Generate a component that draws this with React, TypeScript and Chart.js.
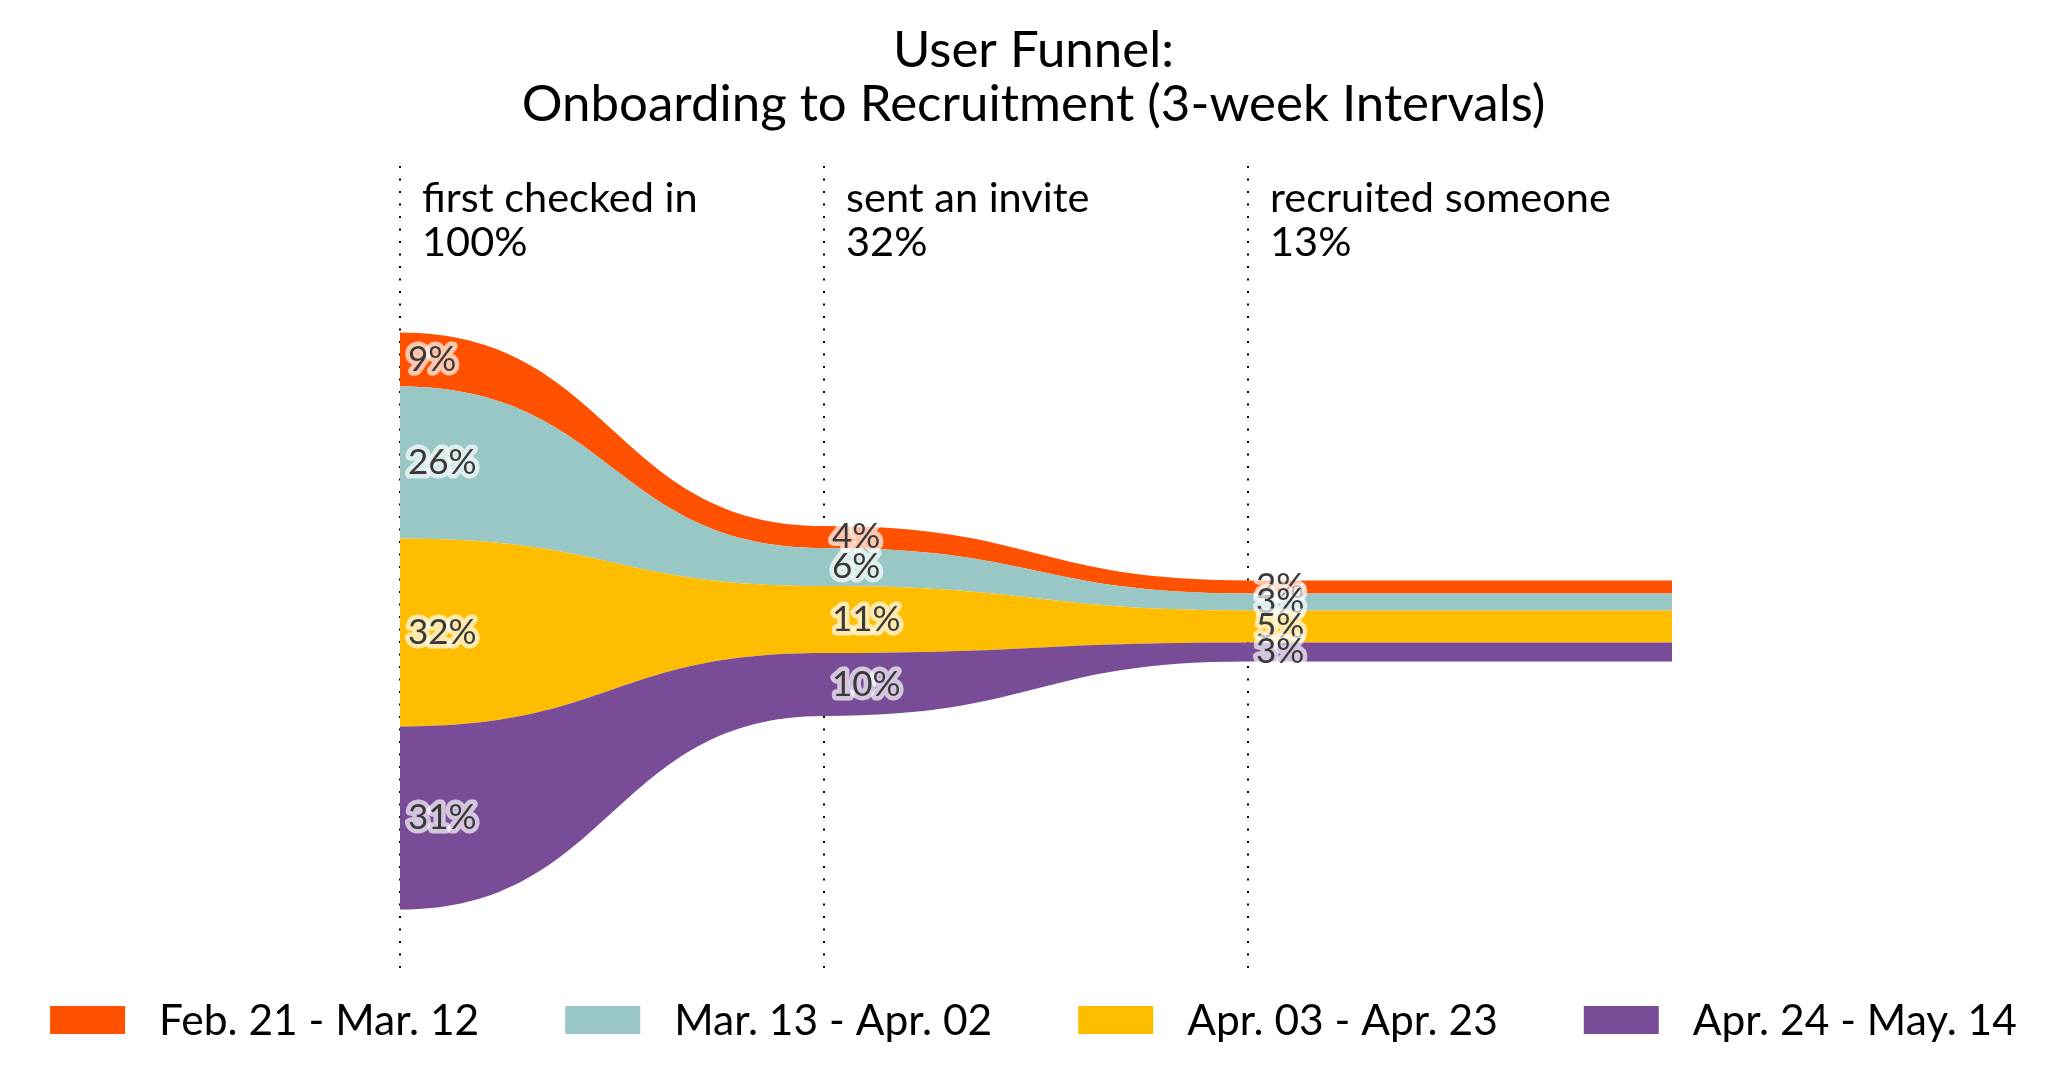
import React, { useEffect, useRef } from 'react';
import { Chart, registerables } from 'chart.js';

Chart.register(...registerables);

// ---- data ----
const stageNames = ['first checked in', 'sent an invite', 'recruited someone'];
const stageTotals = ['100%', '32%', '13%'];
const stageX = [0, 1, 2];
const endX = 3;
const cohorts = ['Feb. 21 - Mar. 12', 'Mar. 13 - Apr. 02', 'Apr. 03 - Apr. 23', 'Apr. 24 - May. 14'];
const colors = ['#ff5100', '#98c7c6', '#ffbd00', '#784c96'];
const febValues = [9.36, 3.81, 2.25];
const marValues = [26.34, 6.59, 2.95];
const aprValues = [32.58, 11.6, 5.55];
const mayValues = [31.72, 10.9, 3.29];
const febLabels = ['9%', '4%', '2%'];
const marLabels = ['26%', '6%', '3%'];
const aprLabels = ['32%', '11%', '5%'];
const mayLabels = ['31%', '10%', '3%'];

const seriesValues = [febValues, marValues, aprValues, mayValues];
const seriesLabels = [febLabels, marLabels, aprLabels, mayLabels];

const FONT = 'Lato, "Open Sans", sans-serif';

function computeBounds(chart: any) {
  const vals = chart.data.datasets.map((ds: any) => ds.data.map((p: any) => p.y));
  const nStages = vals[0].length;
  const tops: number[][] = vals.map(() => []);
  const bottoms: number[][] = vals.map(() => []);
  for (let s = 0; s < nStages; s++) {
    let total = 0;
    vals.forEach((v: number[]) => (total += v[s]));
    let cur = total / 2;
    vals.forEach((v: number[], k: number) => {
      tops[k][s] = cur;
      cur -= v[s];
      bottoms[k][s] = cur;
    });
  }
  return { tops, bottoms, nStages };
}

const bandsPlugin = {
  id: 'funnelBands',
  beforeDatasetsDraw(chart: any) {
    const { ctx } = chart;
    const xs = chart.scales.x;
    const ys = chart.scales.y;
    const { tops, bottoms, nStages } = computeBounds(chart);
    chart.data.datasets.forEach((ds: any, k: number) => {
      const px = (s: number) => xs.getPixelForValue(ds.data[s].x);
      const pxEnd = xs.getPixelForValue(endX);
      ctx.save();
      ctx.beginPath();
      ctx.moveTo(px(0), ys.getPixelForValue(tops[k][0]));
      for (let s = 0; s < nStages - 1; s++) {
        const x0 = px(s), x1 = px(s + 1), xm = (x0 + x1) / 2;
        const y0 = ys.getPixelForValue(tops[k][s]);
        const y1 = ys.getPixelForValue(tops[k][s + 1]);
        ctx.bezierCurveTo(xm, y0, xm, y1, x1, y1);
      }
      ctx.lineTo(pxEnd, ys.getPixelForValue(tops[k][nStages - 1]));
      ctx.lineTo(pxEnd, ys.getPixelForValue(bottoms[k][nStages - 1]));
      ctx.lineTo(px(nStages - 1), ys.getPixelForValue(bottoms[k][nStages - 1]));
      for (let s = nStages - 1; s > 0; s--) {
        const x0 = px(s), x1 = px(s - 1), xm = (x0 + x1) / 2;
        const y0 = ys.getPixelForValue(bottoms[k][s]);
        const y1 = ys.getPixelForValue(bottoms[k][s - 1]);
        ctx.bezierCurveTo(xm, y0, xm, y1, x1, y1);
      }
      ctx.closePath();
      ctx.fillStyle = ds.backgroundColor;
      ctx.fill();
      ctx.restore();
    });
  },
  afterDatasetsDraw(chart: any) {
    const { ctx } = chart;
    const xs = chart.scales.x;
    const ys = chart.scales.y;
    const { tops, bottoms, nStages } = computeBounds(chart);
    ctx.save();
    ctx.font = `35px ${FONT}`;
    ctx.textAlign = 'left';
    ctx.textBaseline = 'middle';
    ctx.lineJoin = 'round';
    for (let s = 0; s < nStages; s++) {
      chart.data.datasets.forEach((ds: any, k: number) => {
        const x = xs.getPixelForValue(ds.data[s].x) + 8;
        const y = (ys.getPixelForValue(tops[k][s]) + ys.getPixelForValue(bottoms[k][s])) / 2;
        const t = seriesLabels[k][s];
        ctx.strokeStyle = 'rgba(255,255,255,0.68)';
        ctx.lineWidth = 9;
        ctx.strokeText(t, x, y);
        ctx.fillStyle = '#3a3a3a';
        ctx.fillText(t, x, y);
      });
    }
    ctx.restore();
  },
  afterDraw(chart: any) {
    const { ctx, chartArea } = chart;
    const xs = chart.scales.x;
    ctx.save();
    // stage headers
    ctx.font = `41.5px ${FONT}`;
    ctx.fillStyle = '#000';
    ctx.textAlign = 'left';
    ctx.textBaseline = 'alphabetic';
    stageX.forEach((sx, i) => {
      const x = xs.getPixelForValue(sx) + 22;
      ctx.fillText(stageNames[i], x, chartArea.top + 46);
      ctx.fillText(stageTotals[i], x, chartArea.top + 90);
    });
    // legend
    ctx.font = `42.5px ${FONT}`;
    const boxW = 75, boxH = 28, gap = 34, spacing = 86;
    const widths = cohorts.map((c) => ctx.measureText(c).width);
    const total = widths.reduce((a, w) => a + boxW + gap + w, 0) + spacing * (cohorts.length - 1);
    let x = (chart.width - total) / 2;
    const boxY = chartArea.bottom + 37;
    const textY = chartArea.bottom + 66;
    cohorts.forEach((c, i) => {
      ctx.fillStyle = colors[i];
      ctx.fillRect(x, boxY, boxW, boxH);
      ctx.fillStyle = '#000';
      ctx.fillText(c, x + boxW + gap, textY);
      x += boxW + gap + widths[i] + spacing;
    });
    ctx.restore();
  },
};

export default function App() {
  const ref = useRef<HTMLCanvasElement>(null);
  useEffect(() => {
    if (!ref.current) return;
    const chart = new Chart(ref.current, {
      type: 'line',
      data: {
        datasets: cohorts.map((c, k) => ({
          label: c,
          data: stageX.map((sx, s) => ({ x: sx, y: seriesValues[k][s] })),
          backgroundColor: colors[k],
          borderColor: colors[k],
          borderWidth: 0,
          showLine: false,
          pointRadius: 0,
        })),
      },
      options: {
        animation: false,
        responsive: false,
        events: [],
        layout: { padding: { left: 0, right: 0, top: 0, bottom: 121 } },
        plugins: {
          legend: { display: false },
          tooltip: { enabled: false },
          title: {
            display: true,
            text: ['User Funnel:', 'Onboarding to Recruitment (3-week Intervals)'],
            color: '#000',
            font: { family: FONT, size: 51, weight: 'normal', lineHeight: 1.04 },
            padding: { top: 24.5, bottom: 35.4 },
          },
        },
        scales: {
          x: {
            type: 'linear',
            bounds: 'data',
            min: -0.9434,
            max: 3.9316,
            afterBuildTicks: (axis: any) => {
              axis.ticks = stageX.map((v) => ({ value: v }));
            },
            ticks: { display: false },
            grid: { display: true, color: '#000', lineWidth: 2, drawTicks: false },
            border: { display: false, dash: [2, 10.5] },
          },
          y: {
            type: 'linear',
            display: false,
            bounds: 'data',
            min: -60.31,
            max: 78.86,
          },
        },
      },
      plugins: [bandsPlugin],
    } as any);
    return () => chart.destroy();
  }, []);
  return (
    <div style={{ position: 'absolute', left: 0, top: 0, width: 2067, height: 1090, background: '#fff' }}>
      <canvas ref={ref} width={2067} height={1090} />
    </div>
  );
}
